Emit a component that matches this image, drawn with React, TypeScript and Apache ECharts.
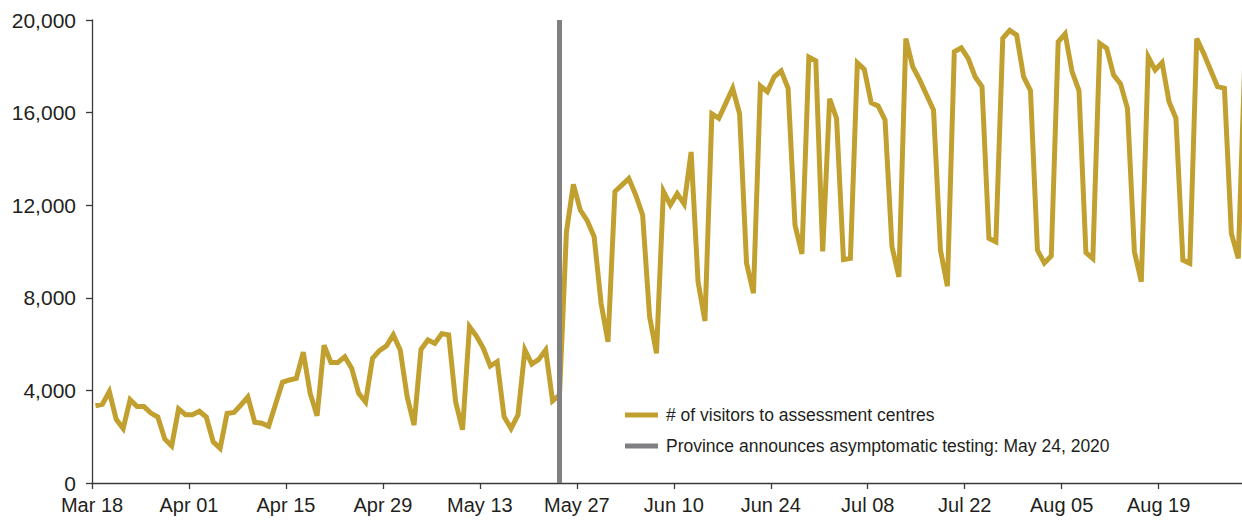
import React, { useEffect, useRef } from "react";
import * as echarts from "echarts";

const START = { year: 2020, month: 2, day: 18 }; // Mar 18, 2020
const MONTHS = ["Jan", "Feb", "Mar", "Apr", "May", "Jun", "Jul", "Aug", "Sep", "Oct", "Nov", "Dec"];

const visitors: number[] = [
  3340, 3400, 3950, 2750, 2350, 3600, 3300, 3300, 3020, 2850,
  1900, 1600, 3200, 2950, 2950, 3100, 2850, 1780, 1500, 3000,
  3050, 3370, 3720, 2620, 2580, 2450, 3400, 4350, 4450, 4520,
  5650, 3870, 2900, 5950, 5210, 5210, 5450, 4950, 3870, 3500,
  5380, 5720, 5920, 6400, 5750, 3730, 2500, 5770, 6180, 6030,
  6450, 6400, 3510, 2300, 6750, 6350, 5820, 5050, 5240, 2860,
  2350, 2940, 5750, 5140, 5340, 5750, 3550, 3800, 10850, 12900,
  11790, 11330, 10640, 7760, 6100, 12590, 12870, 13150, 12440, 11580,
  7190, 5600, 12600, 12010, 12500, 12050, 14300, 8700, 7000, 15950,
  15750, 16400, 17050, 15950, 9500, 8200, 17150, 16900, 17550, 17800,
  17050, 11140, 9900, 18400, 18240, 10000, 16600, 15750, 9650, 9700,
  18150, 17870, 16430, 16290, 15680, 10210, 8900, 19200, 17980, 17410,
  16760, 16110, 10060, 8500, 18630, 18800, 18340, 17550, 17120, 10570,
  10420, 19210, 19550, 19350, 17550, 16950, 10060, 9500, 9810, 19060,
  19400, 17770, 16950, 9950, 9700, 18990, 18780, 17620, 17240, 16180,
  9990, 8700, 18400, 17840, 18160, 16470, 15750, 9630, 9490, 19200,
  18560, 17840, 17120, 17050, 10780, 9700, 18800,
];

const dayLabel = (i: number) => {
  const d = new Date(Date.UTC(START.year, START.month, START.day + i));
  return `${MONTHS[d.getUTCMonth()]} ${String(d.getUTCDate()).padStart(2, "0")}`;
};
// one label per day, starting Mar 18, 2020
const categories: string[] = visitors.map((_, i) => dayLabel(i));

const xTickLabels = [
  "Mar 18", "Apr 01", "Apr 15", "Apr 29", "May 13", "May 27",
  "Jun 10", "Jun 24", "Jul 08", "Jul 22", "Aug 05", "Aug 19",
];

const announcementDate = "May 24";
const seriesNames = [
  "# of visitors to assessment centres",
  "Province announces asymptomatic testing: May 24, 2020",
];
const yTicks = { min: 0, max: 20000, interval: 4000 };
const xTicks = { min: 0, max: 168, interval: 14 }; // days since Mar 18

// daily values are plotted at mid-day
const visitorPoints = visitors.map((v, i) => [i + 0.5, v]);
const announcementX = categories.indexOf(announcementDate) + 0.5;

const GOLD = "#C1A030";
const GREY = "#808083";
const TEXT = "#231F20";
const AXIS = "#3a3a3a";
const FONT = "'Liberation Sans', Arial, sans-serif";

export default function App() {
  const ref = useRef<HTMLDivElement>(null);
  useEffect(() => {
    if (!ref.current) return;
    const chart = echarts.init(ref.current, null, { renderer: "svg" });
    chart.setOption({
      animation: false,
      backgroundColor: "#ffffff",
      textStyle: { fontFamily: FONT, color: TEXT },
      grid: {
        left: 92,
        width: 1163.6,
        top: 20,
        bottom: 42,
        containLabel: false,
        outerBoundsMode: "none",
      },
      legend: {
        orient: "vertical",
        left: 620,
        top: 401,
        itemWidth: 33,
        itemHeight: 5,
        itemGap: 13,
        icon: "rect",
        textStyle: { fontFamily: FONT, fontSize: 17.5, color: TEXT, padding: [0, 0, 0, 3] },
        data: seriesNames,
      },
      xAxis: {
        type: "value",
        min: xTicks.min,
        max: xTicks.max,
        interval: xTicks.interval,
        axisLine: { show: true, onZero: false, lineStyle: { color: AXIS, width: 1.3 } },
        axisTick: { show: true, length: 6, lineStyle: { color: AXIS, width: 1.3 } },
        axisLabel: {
          margin: 12,
          fontSize: 20,
          color: TEXT,
          fontFamily: FONT,
          showMaxLabel: false,
          formatter: (v: number) => {
            const lbl = categories[Math.round(v)];
            return lbl && xTickLabels.includes(lbl) ? lbl : "";
          },
        },
        splitLine: { show: false },
      },
      yAxis: {
        type: "value",
        min: yTicks.min,
        max: yTicks.max,
        interval: yTicks.interval,
        axisLine: { show: true, lineStyle: { color: AXIS, width: 1.3 } },
        axisTick: { show: true, length: 6, lineStyle: { color: AXIS, width: 1.3 } },
        axisLabel: {
          margin: 16,
          fontSize: 21,
          color: TEXT,
          fontFamily: FONT,
          formatter: (v: number) => v.toLocaleString("en-US"),
        },
        splitLine: { show: false },
      },
      series: [
        {
          name: seriesNames[0],
          type: "line",
          data: visitorPoints,
          symbol: "none",
          color: GOLD,
          lineStyle: { color: GOLD, width: 5, join: "miter" },
          z: 3,
        },
        {
          name: seriesNames[1],
          type: "line",
          data: [],
          symbol: "none",
          color: GREY,
          lineStyle: { color: GREY, width: 5 },
          markLine: {
            silent: true,
            symbol: "none",
            label: { show: false },
            lineStyle: { color: GREY, width: 5, type: "solid" },
            data: [{ xAxis: announcementX }],
          },
          z: 2,
        },
      ],
    });
    return () => chart.dispose();
  }, []);
  return (
    <div
      ref={ref}
      style={{ position: "fixed", left: 0, top: 0, width: 1242, height: 525, background: "#fff" }}
    />
  );
}
